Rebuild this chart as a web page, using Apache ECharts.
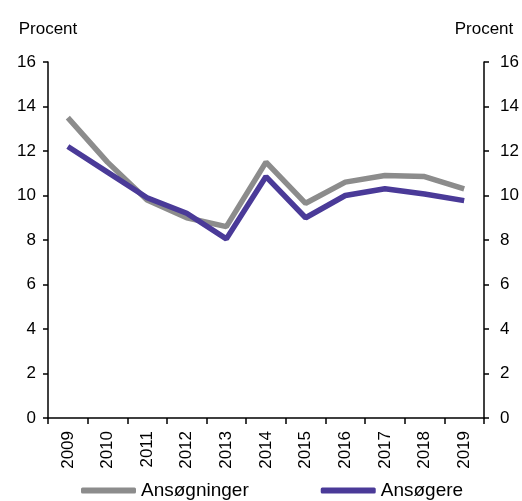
<!DOCTYPE html>
<html>
<head>
<meta charset="utf-8">
<script src="https://cdn.jsdelivr.net/npm/echarts@6/dist/echarts.min.js"></script>
<style>html,body{margin:0;padding:0;background:#fff}#c{width:522px;height:501px}</style>
</head>
<body>
<div id="c"></div>
<script>
const years = ['2009','2010','2011','2012','2013','2014','2015','2016','2017','2018','2019'];
const ansoegninger = [13.5, 11.5, 9.8, 9.0, 8.6, 11.5, 9.65, 10.6, 10.9, 10.85, 10.3];
const ansoegere = [12.2, 11.05, 9.9, 9.2, 8.05, 10.85, 9.0, 10.0, 10.3, 10.07, 9.77];
const yTicks = [0, 2, 4, 6, 8, 10, 12, 14, 16];

const font = 'Liberation Sans, Arial, sans-serif';
const fs = 17;
const axisStyle = {lineStyle:{color:'#000', width:1.5}};
const chart = echarts.init(document.getElementById('c'));
function yAxis(pos, margin){
  return {
    type:'value', position:pos, min:yTicks[0], max:yTicks[yTicks.length-1], interval:2,
    name:'Procent', nameLocation:'end', nameGap:24,
    nameTextStyle:{color:'#000', fontSize:fs, fontFamily:font},
    axisLine:{show:true, ...axisStyle},
    axisTick:{show:true, length:5, lineStyle:{color:'#000', width:1.5}},
    axisLabel:{color:'#000', fontSize:fs, fontFamily:font, margin:margin},
    splitLine:{show:false}
  };
}
chart.setOption({
  animation:false,
  grid:{left:48, right:38, top:62, bottom:83},
  xAxis:{
    type:'category', data:years, boundaryGap:true,
    axisLine:{show:true, ...axisStyle},
    axisTick:{show:true, length:6, lineStyle:{color:'#000', width:1.5}},
    axisLabel:{rotate:90, color:'#000', fontSize:fs, fontFamily:font, margin:13, interval:0}
  },
  yAxis:[yAxis('left', 12), yAxis('right', 16)],
  legend:{
    top:476, left:76, itemGap:72, itemWidth:55, itemHeight:6,
    icon:'roundRect',
    textStyle:{color:'#000', fontSize:19, fontFamily:font},
    data:['Ansøgninger','Ansøgere']
  },
  series:[
    {name:'Ansøgninger', type:'line', data:ansoegninger, showSymbol:false, symbol:'none',
     lineStyle:{color:'#8c8c8c', width:5.5}, itemStyle:{color:'#8c8c8c'}},
    {name:'Ansøgere', type:'line', data:ansoegere, showSymbol:false, symbol:'none',
     lineStyle:{color:'#4a3a98', width:5.5}, itemStyle:{color:'#4a3a98'}}
  ]
});
</script>
</body>
</html>
